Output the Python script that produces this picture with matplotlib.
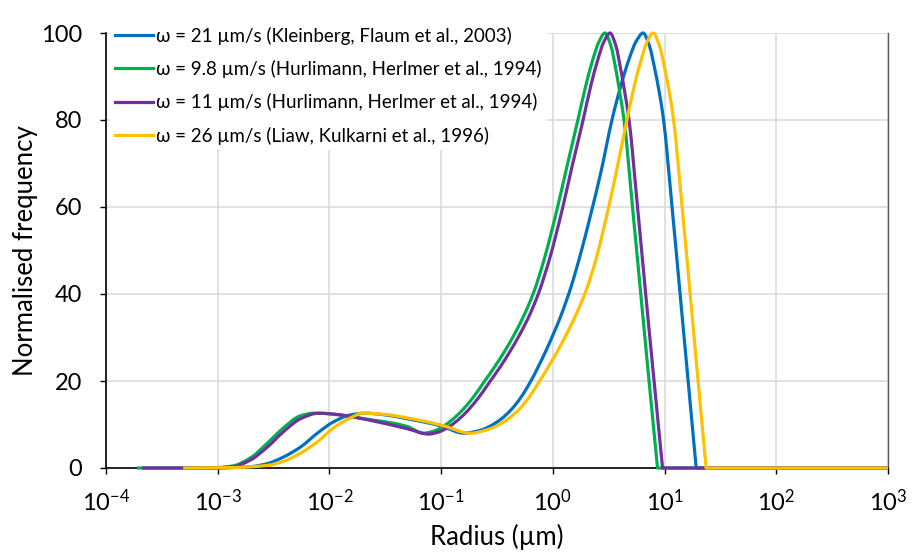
import matplotlib
matplotlib.use('Agg')
from matplotlib import pyplot as plt
from matplotlib.path import Path
from matplotlib.patches import PathPatch
import numpy as np

plt.rcParams['font.family'] = ['Lato', 'DejaVu Sans']
plt.rcParams['mathtext.fontset'] = 'custom'
plt.rcParams['mathtext.rm'] = 'Lato'
plt.rcParams['mathtext.default'] = 'regular'

# log10 of radius (um) and normalised frequency
lr_blue = [-3.309, -3.004, -2.709, -2.556, -2.413, -2.260, -2.108, -1.964, -1.812, -1.677,
           -1.498, -1.300, -1.004, -0.798, -0.646, -0.556, -0.466, -0.377, -0.287, -0.197,
           -0.063, 0.072, 0.161, 0.251, 0.341, 0.430, 0.529, 0.610, 0.682, 0.744, 0.807,
           0.865, 0.910, 0.955, 0.991, 1.067, 1.139, 1.211, 1.283, 3.0]
f_blue = [0, 0, 0.3, 1.0, 2.5, 4.8, 8.0, 10.6, 12.2, 12.6,
          12.2, 11.3, 9.7, 8.0, 8.7, 9.7, 11.2, 13.3, 16.2, 20.0,
          26.9, 35.0, 41.5, 49.5, 58.5, 68.0, 80, 88, 94, 98, 100,
          97, 92, 86, 80, 60, 40, 20, 0, 0]

lr_green = [-3.722, -3.202, -3.004, -2.861, -2.709, -2.556, -2.413, -2.260, -2.143, -1.964,
            -1.812, -1.605, -1.426, -1.300, -1.157, -1.076, -1.004, -0.915, -0.825, -0.717,
            -0.610, -0.520, -0.430, -0.341, -0.251, -0.170, -0.072, 0.036, 0.126, 0.224,
            0.296, 0.359, 0.413, 0.466, 0.520, 0.561, 0.601, 0.637, 0.713, 0.787, 0.861,
            0.937, 3.0]
f_green = [0, 0, 0.1, 0.5, 2.3, 5.7, 9.2, 12.0, 12.6, 12.4,
           11.8, 11.0, 10.3, 9.5, 8.0, 8.4, 9.2, 10.8, 12.9, 16.1,
           20.0, 23.3, 26.9, 30.9, 35.5, 40.5, 48.5, 59.3, 69.3, 80,
           88, 94, 98, 100, 97, 92, 86, 80, 60, 40, 20,
           0, 0]

lr_purple = [-3.677, -3.202, -3.004, -2.861, -2.709, -2.556, -2.413, -2.260, -2.099, -1.901,
             -1.605, -1.300, -1.112, -1.031, -0.960, -0.870, -0.780, -0.673, -0.565, -0.475,
             -0.386, -0.296, -0.206, -0.126, -0.027, 0.081, 0.170, 0.269, 0.341, 0.404,
             0.457, 0.511, 0.565, 0.605, 0.646, 0.682, 0.758, 0.831, 0.906, 0.982, 3.0]
f_purple = [0, 0, 0.05, 0.3, 1.8, 4.8, 8.3, 11.3, 12.6, 12.2,
            10.8, 9.0, 7.8, 8.2, 9.0, 10.6, 12.7, 15.9, 19.8, 23.1,
            26.7, 30.7, 35.3, 40.3, 48.3, 59.1, 69.1, 79.8, 88, 94,
            98, 100, 97, 92, 86, 80, 60, 40, 20, 0, 0]

lr_yellow = [-3.309, -2.861, -2.556, -2.413, -2.260, -2.108, -1.964, -1.812, -1.704, -1.498,
             -1.300, -1.004, -0.735, -0.601, -0.493, -0.395, -0.305, -0.215, -0.126, -0.018,
             0.099, 0.206, 0.296, 0.386, 0.475, 0.565, 0.655, 0.726, 0.789, 0.843, 0.897,
             0.955, 1.000, 1.045, 1.081, 1.157, 1.229, 1.300, 1.372, 3.0]
f_yellow = [0, 0.1, 0.6, 1.5, 3.4, 6.0, 9.2, 11.5, 12.6, 12.3,
            11.5, 9.9, 8.0, 8.7, 9.8, 11.4, 13.4, 16.2, 19.7, 24.2,
            29.6, 35.2, 40.7, 48.0, 57.2, 67.7, 79.0, 87.5, 93.7, 97.9, 100,
            97, 92, 86, 80, 60, 40, 20, 0, 0]

labels = ['ω = 21 µm/s (Kleinberg, Flaum et al., 2003)',
          'ω = 9.8 µm/s (Hurlimann, Herlmer et al., 1994)',
          'ω = 11 µm/s (Hurlimann, Herlmer et al., 1994)',
          'ω = 26 µm/s (Liaw, Kulkarni et al., 1996)']
colors = ['#0070C0', '#00B050', '#7030A0', '#FFC000']

xticks = [1e-4, 1e-3, 1e-2, 1e-1, 1e0, 1e1, 1e2, 1e3]
xticklabels = ['$10^{-4}$', '$10^{-3}$', '$10^{-2}$', '$10^{-1}$',
               '$10^{0}$', '$10^{1}$', '$10^{2}$', '$10^{3}$']
yticks = [0, 20, 40, 60, 80, 100]


def smooth_path(lr, f):
    # smoothed line: monotone cubic through the points (log-x),
    # then a straight tail along zero to the last point
    x = np.asarray(lr[:-1], dtype=float)
    y = np.asarray(f[:-1], dtype=float)
    h = np.diff(x)
    d = np.diff(y) / h
    m = np.zeros(len(x))
    for i in range(1, len(x) - 1):
        if d[i - 1] * d[i] > 0:
            w1 = 2 * h[i] + h[i - 1]
            w2 = h[i] + 2 * h[i - 1]
            m[i] = (w1 + w2) / (w1 / d[i - 1] + w2 / d[i])
    m[0] = d[0]
    m[-1] = d[-1]
    verts = [(x[0], y[0])]
    codes = [Path.MOVETO]
    for i in range(len(x) - 1):
        verts += [(x[i] + h[i] / 3, y[i] + m[i] * h[i] / 3),
                  (x[i + 1] - h[i] / 3, y[i + 1] - m[i + 1] * h[i] / 3),
                  (x[i + 1], y[i + 1])]
        codes += [Path.CURVE4] * 3
    verts.append((lr[-1], f[-1]))
    codes.append(Path.LINETO)
    verts = [(10 ** vx, vy) for vx, vy in verts]
    return Path(verts, codes)


fig = plt.figure(figsize=(9.13, 5.52), dpi=100)
ax = fig.add_axes([106 / 913, 1 - 468 / 552, 782 / 913, 435 / 552])
ax.set_xscale('log')
ax.set_xlim(1e-4, 1e3)
ax.set_ylim(0, 100)

series = [(lr_blue, f_blue), (lr_green, f_green), (lr_purple, f_purple), (lr_yellow, f_yellow)]
for (lr, f), c, lab in zip(series, colors, labels):
    patch = PathPatch(smooth_path(lr, f), fill=False, edgecolor=c, lw=2.3,
                      clip_on=False, zorder=3, joinstyle='round', capstyle='butt')
    ax.add_patch(patch)
    ax.plot([], [], color=c, lw=2.3, label=lab)

ax.set_xticks(xticks)
ax.set_xticklabels(xticklabels)
ax.minorticks_off()
ax.set_yticks(yticks)

ax.grid(True, color='#D9D9D9', lw=1.1)
ax.set_axisbelow(True)
ax.spines['top'].set_visible(False)
ax.spines['right'].set_color('#595959')
ax.spines['right'].set_linewidth(1.0)
ax.spines['left'].set_linewidth(1.2)
ax.spines['bottom'].set_linewidth(1.2)
ax.tick_params(axis='both', direction='out', length=4, width=1.0, labelsize=17,
               colors='black')
ax.tick_params(axis='x', pad=11)
ax.tick_params(axis='y', pad=13)

ax.set_xlabel('Radius (µm)', fontsize=18.5, labelpad=6)
ax.set_ylabel('Normalised frequency', fontsize=18.5, labelpad=2)

leg = ax.legend(loc='upper left', bbox_to_anchor=(0.0, 1.036), fontsize=13.5,
                frameon=True, facecolor='white', edgecolor='none', framealpha=1,
                handlelength=2.0, handletextpad=0.15, labelspacing=0.81,
                borderaxespad=0.2, borderpad=0.3)
leg.set_zorder(2.5)

fig.savefig('out.png', dpi=100)
